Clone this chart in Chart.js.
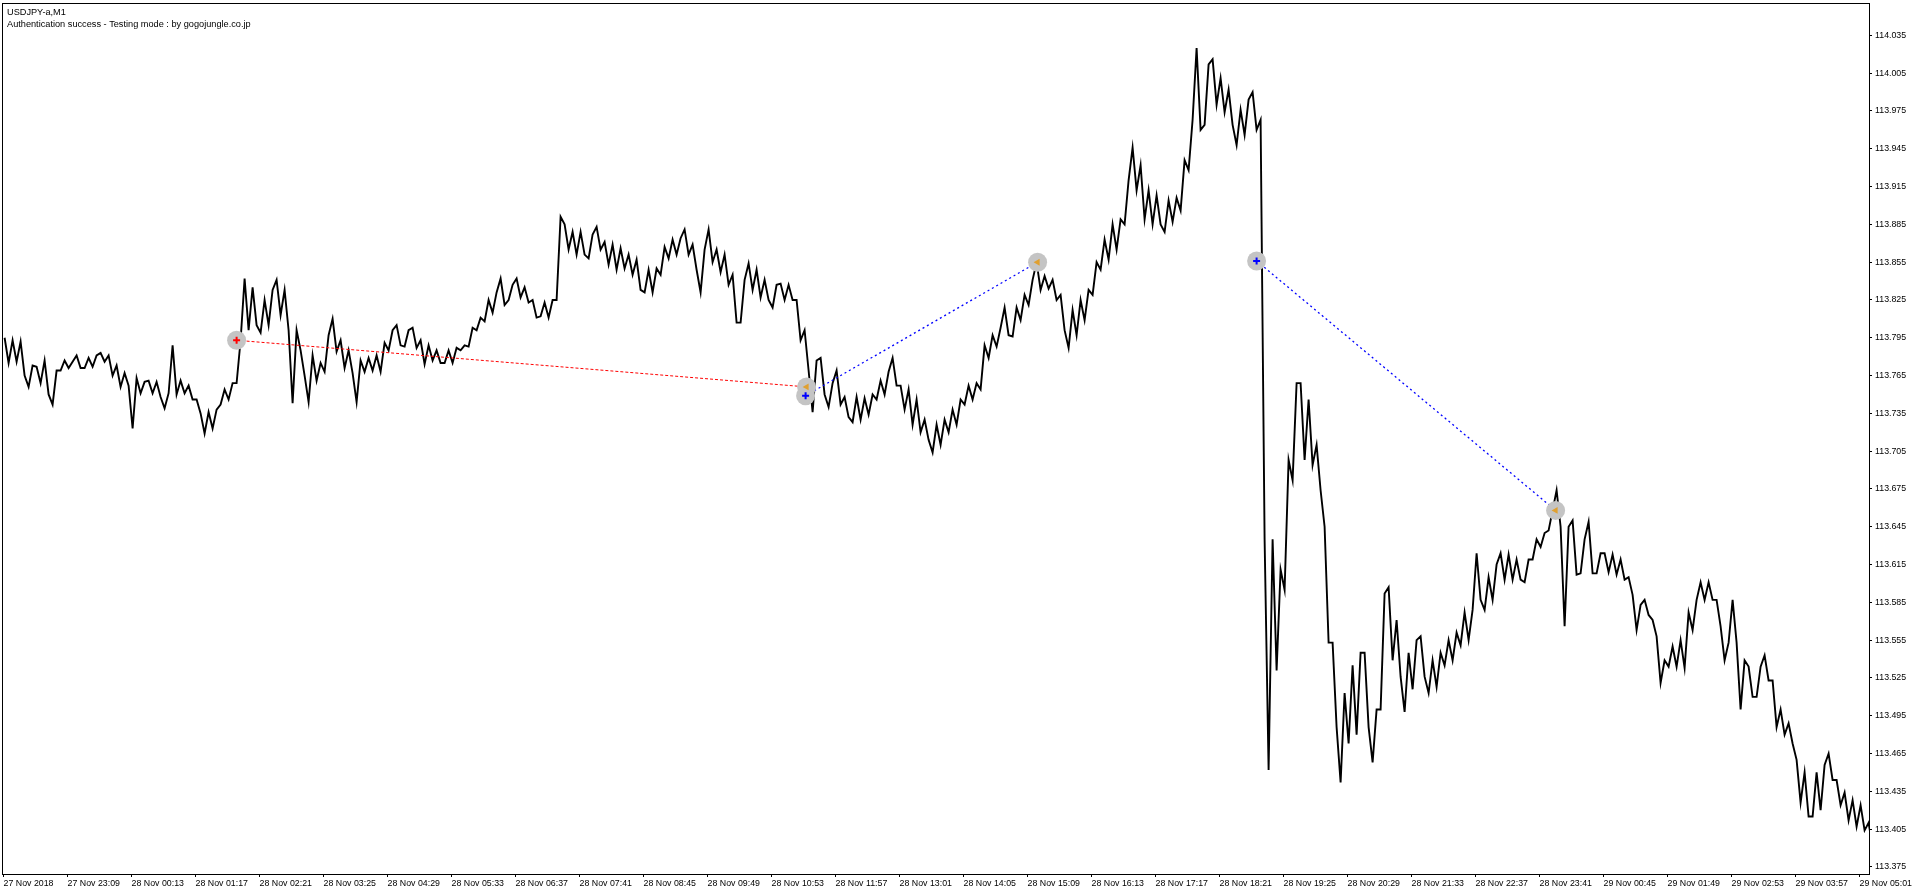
<!DOCTYPE html>
<html>
<head>
<meta charset="utf-8">
<title>USDJPY-a,M1</title>
<script src="https://cdn.jsdelivr.net/npm/chart.js@4.4.1/dist/chart.umd.min.js"></script>
<style>
  html, body { margin: 0; padding: 0; background: #fff; }
  #wrap { position: relative; width: 1915px; height: 895px; }
  canvas { display: block; }
</style>
</head>
<body>
<div id="wrap"><canvas id="chart" width="1915" height="895"></canvas></div>
<script>
// M1 bars, one bar per pixel; price read in buckets of 8 bars (high / low of each bucket)
const bucketSize = 8;

const highs = [
  113.795, 113.793, 113.792, 113.773, 113.772, 113.777, 113.769, 113.777, 113.776, 113.781,
  113.779, 113.781, 113.783, 113.781, 113.773, 113.767, 113.763, 113.760, 113.761, 113.760,
  113.751, 113.789, 113.761, 113.757, 113.746, 113.736, 113.738, 113.754, 113.759, 113.793,
  113.842, 113.835, 113.825, 113.833, 113.841, 113.833, 113.801, 113.785, 113.781, 113.775,
  113.797, 113.810, 113.793, 113.785, 113.777, 113.779, 113.781, 113.791, 113.801, 113.805,
  113.801, 113.803, 113.793, 113.789, 113.785, 113.785, 113.787, 113.789, 113.803, 113.811,
  113.825, 113.831, 113.842, 113.837, 113.842, 113.835, 113.825, 113.823, 113.825, 113.891,
  113.885, 113.879, 113.879, 113.877, 113.883, 113.871, 113.869, 113.866, 113.861, 113.857,
  113.849, 113.850, 113.867, 113.873, 113.874, 113.881, 113.869, 113.865, 113.881, 113.865,
  113.861, 113.845, 113.841, 113.854, 113.849, 113.841, 113.837, 113.838, 113.837, 113.825,
  113.801, 113.777, 113.779, 113.759, 113.769, 113.748, 113.748, 113.747, 113.750, 113.761,
  113.768, 113.779, 113.757, 113.754, 113.746, 113.730, 113.726, 113.730, 113.738, 113.746,
  113.757, 113.759, 113.789, 113.797, 113.803, 113.819, 113.819, 113.829, 113.841, 113.855,
  113.844, 113.841, 113.829, 113.817, 113.825, 113.833, 113.855, 113.873, 113.885, 113.889,
  113.920, 113.946, 113.932, 113.912, 113.908, 113.904, 113.906, 113.936, 113.968, 114.025,
  114.012, 114.016, 114.001, 113.992, 113.976, 113.984, 113.990, 113.968, 113.635, 113.611,
  113.698, 113.759, 113.759, 113.746, 113.710, 113.645, 113.553, 113.513, 113.535, 113.545,
  113.545, 113.500, 113.592, 113.597, 113.571, 113.545, 113.555, 113.558, 113.539, 113.545,
  113.555, 113.561, 113.577, 113.579, 113.624, 113.605, 113.615, 113.624, 113.623, 113.619,
  113.619, 113.635, 113.640, 113.658, 113.674, 113.645, 113.650, 113.635, 113.649, 113.624,
  113.624, 113.623, 113.619, 113.605, 113.583, 113.587, 113.571, 113.539, 113.550, 113.555,
  113.577, 113.587, 113.601, 113.601, 113.587, 113.553, 113.587, 113.539, 113.534, 113.534,
  113.543, 113.523, 113.500, 113.489, 113.460, 113.450, 113.450, 113.456, 113.465, 113.444,
  113.434, 113.428, 113.424, 113.410
];

const lows = [
  113.775, 113.776, 113.765, 113.756, 113.759, 113.750, 113.742, 113.769, 113.771, 113.771,
  113.771, 113.772, 113.776, 113.765, 113.756, 113.757, 113.723, 113.751, 113.751, 113.748,
  113.739, 113.750, 113.751, 113.746, 113.735, 113.719, 113.723, 113.742, 113.746, 113.759,
  113.801, 113.805, 113.799, 113.805, 113.813, 113.801, 113.743, 113.765, 113.744, 113.761,
  113.768, 113.784, 113.771, 113.767, 113.744, 113.768, 113.769, 113.768, 113.785, 113.789,
  113.788, 113.787, 113.774, 113.777, 113.775, 113.775, 113.775, 113.785, 113.788, 113.801,
  113.808, 113.815, 113.821, 113.825, 113.827, 113.823, 113.811, 113.812, 113.811, 113.825,
  113.865, 113.861, 113.861, 113.858, 113.865, 113.853, 113.849, 113.850, 113.845, 113.833,
  113.831, 113.831, 113.845, 113.858, 113.861, 113.861, 113.849, 113.831, 113.855, 113.847,
  113.837, 113.807, 113.807, 113.833, 113.827, 113.825, 113.819, 113.825, 113.825, 113.793,
  113.769, 113.736, 113.750, 113.740, 113.742, 113.732, 113.728, 113.730, 113.734, 113.746,
  113.750, 113.757, 113.738, 113.726, 113.720, 113.714, 113.704, 113.710, 113.720, 113.726,
  113.742, 113.746, 113.754, 113.779, 113.788, 113.797, 113.796, 113.809, 113.821, 113.833,
  113.834, 113.825, 113.801, 113.787, 113.797, 113.809, 113.829, 113.849, 113.857, 113.865,
  113.885, 113.912, 113.889, 113.885, 113.885, 113.879, 113.887, 113.896, 113.928, 113.960,
  113.964, 113.980, 113.974, 113.964, 113.948, 113.956, 113.960, 113.635, 113.452, 113.531,
  113.595, 113.682, 113.698, 113.694, 113.674, 113.553, 113.486, 113.442, 113.473, 113.480,
  113.486, 113.458, 113.500, 113.539, 113.526, 113.498, 113.516, 113.526, 113.513, 113.518,
  113.535, 113.539, 113.551, 113.555, 113.587, 113.579, 113.587, 113.603, 113.603, 113.603,
  113.601, 113.619, 113.629, 113.642, 113.645, 113.566, 113.607, 113.608, 113.608, 113.608,
  113.609, 113.607, 113.603, 113.591, 113.563, 113.575, 113.558, 113.521, 113.534, 113.534,
  113.533, 113.563, 113.587, 113.587, 113.566, 113.539, 113.553, 113.500, 113.510, 113.510,
  113.523, 113.486, 113.480, 113.473, 113.426, 113.415, 113.415, 113.420, 113.444, 113.424,
  113.412, 113.407, 113.404, 113.391
];

// trades: bar index of open / close and prices
const tradeOpenBar = [233, 802, 1253];
const tradeOpenPrice = [113.793, 113.749, 113.856];
const tradeCloseBar = [803, 1034, 1552];
const tradeClosePrice = [113.756, 113.855, 113.658];
const tradeColor = ['#ff0000', '#0000ff', '#0000ff'];

const xTickBars = [0, 64, 128, 192, 256, 320, 384, 448, 512, 576, 640, 704, 768, 832, 896,
  960, 1024, 1088, 1152, 1216, 1280, 1344, 1408, 1472, 1536, 1600, 1664, 1728, 1792, 1856];
const xTickLabels = ['27 Nov 2018', '27 Nov 23:09', '28 Nov 00:13', '28 Nov 01:17', '28 Nov 02:21',
  '28 Nov 03:25', '28 Nov 04:29', '28 Nov 05:33', '28 Nov 06:37', '28 Nov 07:41', '28 Nov 08:45',
  '28 Nov 09:49', '28 Nov 10:53', '28 Nov 11:57', '28 Nov 13:01', '28 Nov 14:05', '28 Nov 15:09',
  '28 Nov 16:13', '28 Nov 17:17', '28 Nov 18:21', '28 Nov 19:25', '28 Nov 20:29', '28 Nov 21:33',
  '28 Nov 22:37', '28 Nov 23:41', '29 Nov 00:45', '29 Nov 01:49', '29 Nov 02:53', '29 Nov 03:57',
  '29 Nov 05:01'];

const yTickLabels = ['114.035', '114.005', '113.975', '113.945', '113.915', '113.885', '113.855',
  '113.825', '113.795', '113.765', '113.735', '113.705', '113.675', '113.645', '113.615', '113.585',
  '113.555', '113.525', '113.495', '113.465', '113.435', '113.405', '113.375'];

const headerLines = ['USDJPY-a,M1', 'Authentication success - Testing mode : by gogojungle.co.jp'];

// narrow face if it is installed, otherwise a smaller regular one
function hasFont(name) {
  const c = document.createElement('canvas').getContext('2d');
  c.font = '20px monospace';
  const base = c.measureText('28 Nov 00:13 114.035').width;
  c.font = '20px "' + name + '", monospace';
  return c.measureText('28 Nov 00:13 114.035').width !== base;
}
const narrow = hasFont('Liberation Sans Narrow');
const fontFamily = narrow ? '"Liberation Sans Narrow", "Liberation Sans", sans-serif'
                          : '"Liberation Sans", Arial, sans-serif';
const axisSize = narrow ? 10.5 : 8.8;
const headerSize = narrow ? 11.2 : 9.2;

// path through each bucket: low->high when the next bucket is higher, else high->low
const pricePath = [];
for (let k = 0; k < highs.length; k++) {
  const mid = (highs[k] + lows[k]) / 2;
  const next = k + 1 < highs.length ? (highs[k + 1] + lows[k + 1]) / 2 : mid - 1;
  const pair = next > mid ? [lows[k], highs[k]] : [highs[k], lows[k]];
  pricePath.push({ x: k * bucketSize + 1, y: pair[0] });
  pricePath.push({ x: k * bucketSize + 5, y: pair[1] });
}

const datasets = [];
const openPts = tradeOpenBar.map((b, i) => ({ x: b, y: tradeOpenPrice[i] }));
const closePts = tradeCloseBar.map((b, i) => ({ x: b, y: tradeClosePrice[i] }));

datasets.push({
  type: 'scatter', data: openPts, order: 0,
  pointStyle: 'cross', radius: 3.5, borderWidth: 2,
  borderColor: tradeColor, backgroundColor: tradeColor
});
datasets.push({
  type: 'scatter', data: closePts, order: 0,
  pointStyle: 'triangle', rotation: -90, radius: 4, borderWidth: 0,
  backgroundColor: '#e0a030', borderColor: '#e0a030'
});
datasets.push({
  type: 'scatter', data: openPts.concat(closePts), order: 1,
  pointStyle: 'circle', radius: 9.5, borderWidth: 0,
  backgroundColor: '#c4c4c4'
});
tradeOpenBar.forEach((b, i) => {
  datasets.push({
    type: 'line', order: 2,
    data: [openPts[i], closePts[i]],
    borderColor: tradeColor[i], borderWidth: i === 0 ? 1 : 1.3,
    borderDash: i === 0 ? [3, 2] : [2, 3],
    pointRadius: 0, fill: false
  });
});
datasets.push({
  type: 'line', order: 3, data: pricePath,
  borderColor: '#000', borderWidth: 1.9, pointRadius: 0,
  tension: 0, fill: false, borderJoinStyle: 'miter'
});

const frameAndHeader = {
  id: 'frameAndHeader',
  afterDraw(chart) {
    const { ctx, chartArea: a } = chart;
    ctx.save();
    ctx.strokeStyle = '#000';
    ctx.lineWidth = 1;
    ctx.strokeRect(a.left + 0.5, a.top + 0.5, a.right - a.left, a.bottom - a.top);
    ctx.fillStyle = '#000';
    ctx.font = headerSize + 'px ' + fontFamily;
    ctx.textBaseline = 'alphabetic';
    ctx.fillText(headerLines[0], 7, 15);
    ctx.fillText(headerLines[1], 7, 27);
    ctx.restore();
  }
};

new Chart(document.getElementById('chart').getContext('2d'), {
  data: { datasets: datasets },
  plugins: [frameAndHeader],
  options: {
    responsive: false,
    animation: false,
    devicePixelRatio: 1,
    layout: { autoPadding: false, padding: { left: 2, top: 3, right: 0, bottom: 0 } },
    plugins: { legend: { display: false }, tooltip: { enabled: false } },
    scales: {
      x: {
        type: 'linear', position: 'bottom',
        min: -1.6, max: 1865.4,
        afterBuildTicks: s => { s.ticks = xTickBars.map(v => ({ value: v })); },
        afterFit: s => { s.height = 21; s.paddingLeft = 0; s.paddingRight = 0; },
        grid: { drawOnChartArea: false, drawTicks: true, tickLength: 3, color: '#000' },
        border: { display: false },
        ticks: {
          autoSkip: false, maxRotation: 0, align: 'start', padding: 1,
          color: '#000', font: { family: fontFamily, size: axisSize },
          callback: (v, i) => xTickLabels[i]
        }
      },
      y: {
        type: 'linear', position: 'right',
        min: 113.3694, max: 114.0607,
        afterBuildTicks: s => { s.ticks = yTickLabels.map(t => ({ value: parseFloat(t) })); },
        afterFit: s => { s.width = 46; s.paddingTop = 0; s.paddingBottom = 0; },
        grid: { drawOnChartArea: false, drawTicks: true, tickLength: 3, color: '#000' },
        border: { display: false },
        ticks: {
          autoSkip: false, padding: 3,
          color: '#000', font: { family: fontFamily, size: axisSize, lineHeight: 0.01 },
          callback: (v, i) => yTickLabels[i]
        }
      }
    }
  }
});
</script>
</body>
</html>
